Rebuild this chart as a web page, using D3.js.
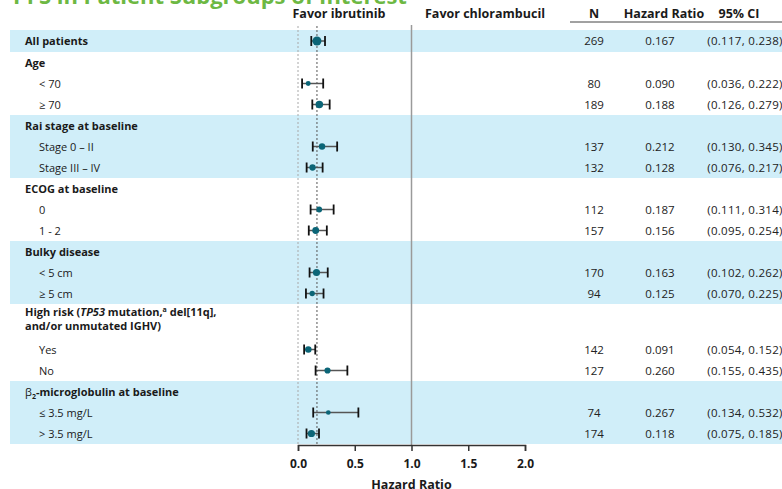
<!DOCTYPE html>
<html>
<head>
<meta charset="utf-8">
<script src="https://cdn.jsdelivr.net/npm/d3@7"></script>
<style>
  html, body { margin: 0; padding: 0; background: #fff; }
  svg { display: block; font-family: "Open Sans", "DejaVu Sans", sans-serif; }
</style>
</head>
<body>
<svg id="chart" width="782" height="489"></svg>
<script>
// Subgroup rows, top to bottom. Kind: "overall", "header", "header2" (two-line header) or "item".
const categories = [
  "All patients", "Age", "< 70", "≥ 70",
  "Rai stage at baseline", "Stage 0 – II", "Stage III – IV",
  "ECOG at baseline", "0", "1 - 2",
  "Bulky disease", "< 5 cm", "≥ 5 cm",
  "High risk", "Yes", "No",
  "β2-microglobulin at baseline", "≤ 3.5 mg/L", "> 3.5 mg/L"
];
const rowKinds = [
  "overall", "header", "item", "item",
  "header", "item", "item",
  "header", "item", "item",
  "header", "item", "item",
  "header2", "item", "item",
  "header", "item", "item"
];
const nPatients   = [269, null, 80, 189, null, 137, 132, null, 112, 157, null, 170, 94, null, 142, 127, null, 74, 174];
const hazardRatio = [0.167, null, 0.090, 0.188, null, 0.212, 0.128, null, 0.187, 0.156, null, 0.163, 0.125, null, 0.091, 0.260, null, 0.267, 0.118];
const ciLower     = [0.117, null, 0.036, 0.126, null, 0.130, 0.076, null, 0.111, 0.095, null, 0.102, 0.070, null, 0.054, 0.155, null, 0.134, 0.075];
const ciUpper     = [0.238, null, 0.222, 0.279, null, 0.345, 0.217, null, 0.314, 0.254, null, 0.262, 0.225, null, 0.152, 0.435, null, 0.532, 0.185];
const axisTicks   = [0, 0.5, 1.0, 1.5, 2.0];
const overallHR   = 0.167;

const svg = d3.select("#chart");
const W = 782;

// Row geometry
const rowH = 21, overallH = 22, twoLineH = 35, rowsTop = 30;
const rows = [];
let cursor = rowsTop, group = -1;
categories.forEach((label, i) => {
  const kind = rowKinds[i];
  if (kind !== "item") group += 1;
  const h = kind === "overall" ? overallH : kind === "header2" ? twoLineH : rowH;
  rows.push({ label, kind, group, y0: cursor, y1: cursor + h, yc: cursor + h / 2,
              n: nPatients[i], hr: hazardRatio[i], lo: ciLower[i], hi: ciUpper[i] });
  cursor += h;
});
const plotBottom = 445;

const x = d3.scaleLinear().domain([0, 2]).range([298, 525]);
const r = d3.scaleSqrt().domain([0, d3.max(nPatients)]).range([0, 4.5]);

// Shaded groups (overall, Rai, bulky, β2)
const groups = d3.groups(rows, d => d.group);
svg.append("g").selectAll("rect")
  .data(groups.filter(([g]) => g % 2 === 0))
  .join("rect")
  .attr("x", 10).attr("width", W - 10)
  .attr("y", ([, rs]) => rs[0].y0)
  .attr("height", ([, rs]) => rs[rs.length - 1].y1 - rs[0].y0)
  .attr("fill", "#d0eef9");

// Title (partly above the canvas)
svg.append("text")
  .attr("x", 13).attr("y", 3.5)
  .attr("fill", "#6db843")
  .attr("font-size", 22).attr("font-weight", 700)
  .text("PFS in Patient Subgroups of Interest");

// Column headers
const hdr = svg.append("g").attr("font-weight", 700).attr("font-size", 12.5).attr("fill", "#1a1a1a")
  .attr("text-anchor", "middle");
hdr.append("text").attr("x", 339).attr("y", 17.5).text("Favor ibrutinib");
hdr.append("text").attr("x", 485).attr("y", 17.5).text("Favor chlorambucil");
hdr.append("text").attr("x", 594).attr("y", 17.5).text("N");
hdr.append("text").attr("x", 664).attr("y", 17.5).text("Hazard Ratio");
hdr.append("text").attr("x", 739).attr("y", 17.5).text("95% CI");
svg.append("line").attr("x1", 570).attr("x2", W).attr("y1", 22).attr("y2", 22)
  .attr("stroke", "#444").attr("stroke-width", 1);

// Reference lines
svg.append("line").attr("x1", x(0)).attr("x2", x(0)).attr("y1", 26).attr("y2", plotBottom)
  .attr("stroke", "#a8a8a8").attr("stroke-width", 1).attr("stroke-dasharray", "2,2");
svg.append("line").attr("x1", x(overallHR)).attr("x2", x(overallHR)).attr("y1", 26).attr("y2", plotBottom)
  .attr("stroke", "#555").attr("stroke-width", 1).attr("stroke-dasharray", "2,2");
svg.append("line").attr("x1", x(1)).attr("x2", x(1)).attr("y1", 25).attr("y2", plotBottom)
  .attr("stroke", "#9a9a9a").attr("stroke-width", 1.5);

// Row labels
const labels = svg.append("g").attr("fill", "#1a1a1a").attr("font-size", 11);
rows.forEach(d => {
  if (d.kind === "header2") {
    const t = labels.append("text").attr("x", 25).attr("font-weight", 700);
    const l1 = t.append("tspan").attr("x", 25).attr("y", d.y0 + 11.5);
    l1.append("tspan").text("High risk (");
    l1.append("tspan").attr("font-style", "italic").text("TP53");
    l1.append("tspan").text(" mutation,");
    l1.append("tspan").attr("font-size", 7).attr("dy", -4).text("a");
    l1.append("tspan").attr("dy", 4).text(" del[11q],");
    t.append("tspan").attr("x", 25).attr("y", d.y0 + 26).text("and/or unmutated IGHV)");
  } else if (d.label.startsWith("β2")) {
    const t = labels.append("text").attr("x", 25).attr("y", d.yc + 4);
    t.append("tspan").text("β");
    t.append("tspan").attr("font-size", 7).attr("font-weight", 700).attr("dy", 3).text("2");
    t.append("tspan").attr("font-weight", 700).attr("dy", -3).text(d.label.slice(2));
  } else {
    labels.append("text")
      .attr("x", d.kind === "item" ? 39 : 25)
      .attr("y", d.yc + 4)
      .attr("font-weight", d.kind === "item" ? 400 : 700)
      .text(d.label);
  }
});

// Table columns
const stats = rows.filter(d => d.hr != null);
const fmt3 = d3.format(".3f");
const tbl = svg.append("g").attr("font-size", 11.5).attr("fill", "#222").attr("text-anchor", "middle");
tbl.selectAll(".n").data(stats).join("text").attr("x", 594).attr("y", d => d.yc + 4).text(d => d.n);
tbl.selectAll(".hr").data(stats).join("text").attr("x", 660).attr("y", d => d.yc + 4).text(d => fmt3(d.hr));
tbl.selectAll(".ci").data(stats).join("text").attr("x", 745).attr("y", d => d.yc + 4)
  .attr("letter-spacing", 0.3)
  .text(d => `(${fmt3(d.lo)}, ${fmt3(d.hi)})`);

// Confidence intervals and point estimates
const marks = svg.append("g");
marks.selectAll(".ci-line").data(stats).join("line")
  .attr("x1", d => x(d.lo)).attr("x2", d => x(d.hi))
  .attr("y1", d => d.yc).attr("y2", d => d.yc)
  .attr("stroke", "#555").attr("stroke-width", 1.5);
["lo", "hi"].forEach(k => {
  marks.selectAll(".cap-" + k).data(stats).join("line")
    .attr("x1", d => x(d[k])).attr("x2", d => x(d[k]))
    .attr("y1", d => d.yc - 5).attr("y2", d => d.yc + 5)
    .attr("stroke", "#111").attr("stroke-width", 1.8);
});
marks.selectAll("circle").data(stats).join("circle")
  .attr("cx", d => x(d.hr)).attr("cy", d => d.yc)
  .attr("r", d => r(d.n))
  .attr("fill", "#0b6577");

// X axis
const axis = svg.append("g").attr("transform", `translate(0,${plotBottom})`)
  .call(d3.axisBottom(x).tickValues(axisTicks).tickFormat(d3.format(".1f"))
    .tickSize(6).tickSizeOuter(6).tickPadding(8));
axis.select(".domain").attr("stroke", "#333").attr("stroke-width", 1.5);
axis.selectAll(".tick line").attr("stroke", "#333").attr("stroke-width", 1.5);
axis.selectAll(".tick text").attr("font-size", 12).attr("font-weight", 700)
  .attr("fill", "#1a1a1a").attr("font-family", "'Open Sans', sans-serif");

svg.append("text").attr("x", x(1)).attr("y", 489)
  .attr("text-anchor", "middle").attr("font-size", 12.5).attr("font-weight", 700).attr("fill", "#1a1a1a")
  .text("Hazard Ratio");
</script>
</body>
</html>
